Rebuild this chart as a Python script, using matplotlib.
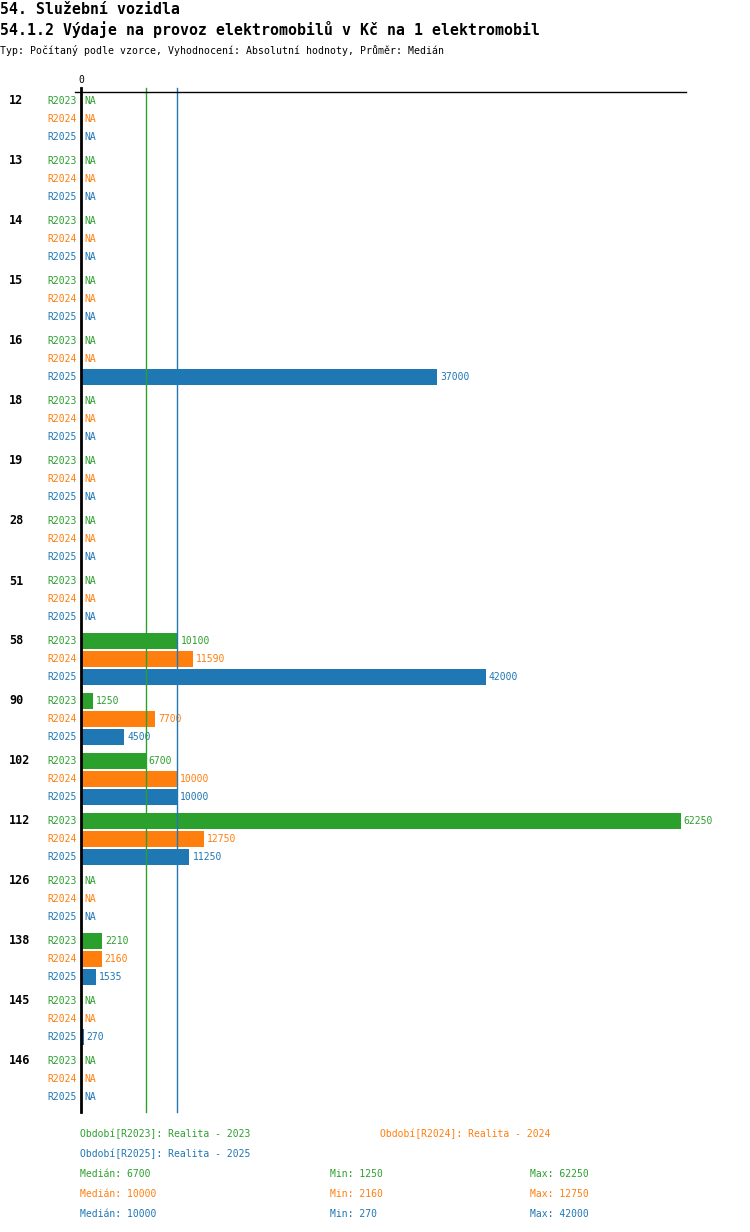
import numpy as np
import matplotlib
matplotlib.use("Agg")
import matplotlib.pyplot as plt
from matplotlib.lines import Line2D

# Data
groups = ["12", "13", "14", "15", "16", "18", "19", "28", "51", "58", "90",
          "102", "112", "126", "138", "145", "146"]
periods = ["R2023", "R2024", "R2025"]
r2023 = [None, None, None, None, None, None, None, None, None, 10100, 1250,
         6700, 62250, None, 2210, None, None]
r2024 = [None, None, None, None, None, None, None, None, None, 11590, 7700,
         10000, 12750, None, 2160, None, None]
r2025 = [None, None, None, None, 37000, None, None, None, None, 42000, 4500,
         10000, 11250, None, 1535, 270, None]
legend_names = ["Období[R2023]: Realita - 2023", "Období[R2024]: Realita - 2024",
                "Období[R2025]: Realita - 2025"]
series = [r2023, r2024, r2025]
colors = ["#2ca02c", "#ff7f0e", "#1f77b4"]

W, H = 750, 1232
fig = plt.figure(figsize=(W / 100, H / 100), dpi=100)
mono = "DejaVu Sans Mono"


def px(x, y):
    return x / W, 1 - y / H


# Titles
fig.text(*px(0, 9), "54. Služební vozidla", family=mono, fontweight="bold",
         fontsize=10.7, va="center", ha="left")
fig.text(*px(0, 30), "54.1.2 Výdaje na provoz elektromobilů v Kč na 1 elektromobil",
         family=mono, fontweight="bold", fontsize=10.7, va="center", ha="left")
fig.text(*px(0, 50), "Typ: Počítaný podle vzorce, Vyhodnocení: Absolutní hodnoty, Průměr: Medián",
         family=mono, fontsize=7.1, va="center", ha="left")

# Axes: x zero at px 81, y in pixel units
x0, x1 = 81, 686
top, bottom = 92, 1112
scale = 599.7 / 62250
ax = fig.add_axes([x0 / W, 1 - bottom / H, (x1 - x0) / W, (bottom - top) / H])
ax.set_xlim(0, (x1 - x0) / scale)
ax.set_ylim(bottom, top)
ax.axis("off")

row0, row_step, group_step, bar_h = 101, 18, 60, 16

for gi, g in enumerate(groups):
    gy = row0 + gi * group_step
    fig.text(*px(9, gy), g, family=mono, fontweight="bold", fontsize=8.5,
             ha="left", va="center")
    for si, (vals, c, p) in enumerate(zip(series, colors, periods)):
        y = gy + si * row_step
        ax.text(-4 / scale, y, p, color=c, family=mono, fontsize=7,
                ha="right", va="center")
        v = vals[gi]
        if v is None:
            ax.text(3 / scale, y, "NA", color=c, family=mono, fontsize=7,
                    ha="left", va="center")
        else:
            ax.barh(y, v, height=bar_h, color=c, left=0)
            ax.text(v + 3 / scale, y, str(v), color=c, family=mono, fontsize=7,
                    ha="left", va="center")

# Median lines (later series cover earlier ones at the same value)
median_lines = {}
for s, c in zip(series, colors):
    median_lines[int(np.median([v for v in s if v is not None]))] = c
for m, c in median_lines.items():
    ax.plot([m, m], [88, bottom], color=c, lw=1, clip_on=False, zorder=3)

# Zero axis and top line
ax.plot([0, 0], [88, bottom], color="black", lw=2, clip_on=False, zorder=4)
fig.add_artist(Line2D([75 / W, 686 / W], [1 - top / H] * 2, color="black", lw=1))
fig.text(*px(81, 80), "0", family=mono, fontsize=7, ha="center", va="center")

# Legend
leg_pos = [(80, 1134), (380, 1134), (80, 1154)]
for (lx, ly), name, c in zip(leg_pos, legend_names, colors):
    fig.text(*px(lx, ly), name, color=c, family=mono, fontsize=7,
             ha="left", va="center")
for si, (s, c) in enumerate(zip(series, colors)):
    vals = [v for v in s if v is not None]
    ly = 1174 + si * 20
    fig.text(*px(80, ly), f"Medián: {int(np.median(vals))}", color=c, family=mono,
             fontsize=7, ha="left", va="center")
    fig.text(*px(330, ly), f"Min: {min(vals)}", color=c, family=mono,
             fontsize=7, ha="left", va="center")
    fig.text(*px(530, ly), f"Max: {max(vals)}", color=c, family=mono,
             fontsize=7, ha="left", va="center")

fig.savefig("out.png", dpi=100, facecolor="white")
